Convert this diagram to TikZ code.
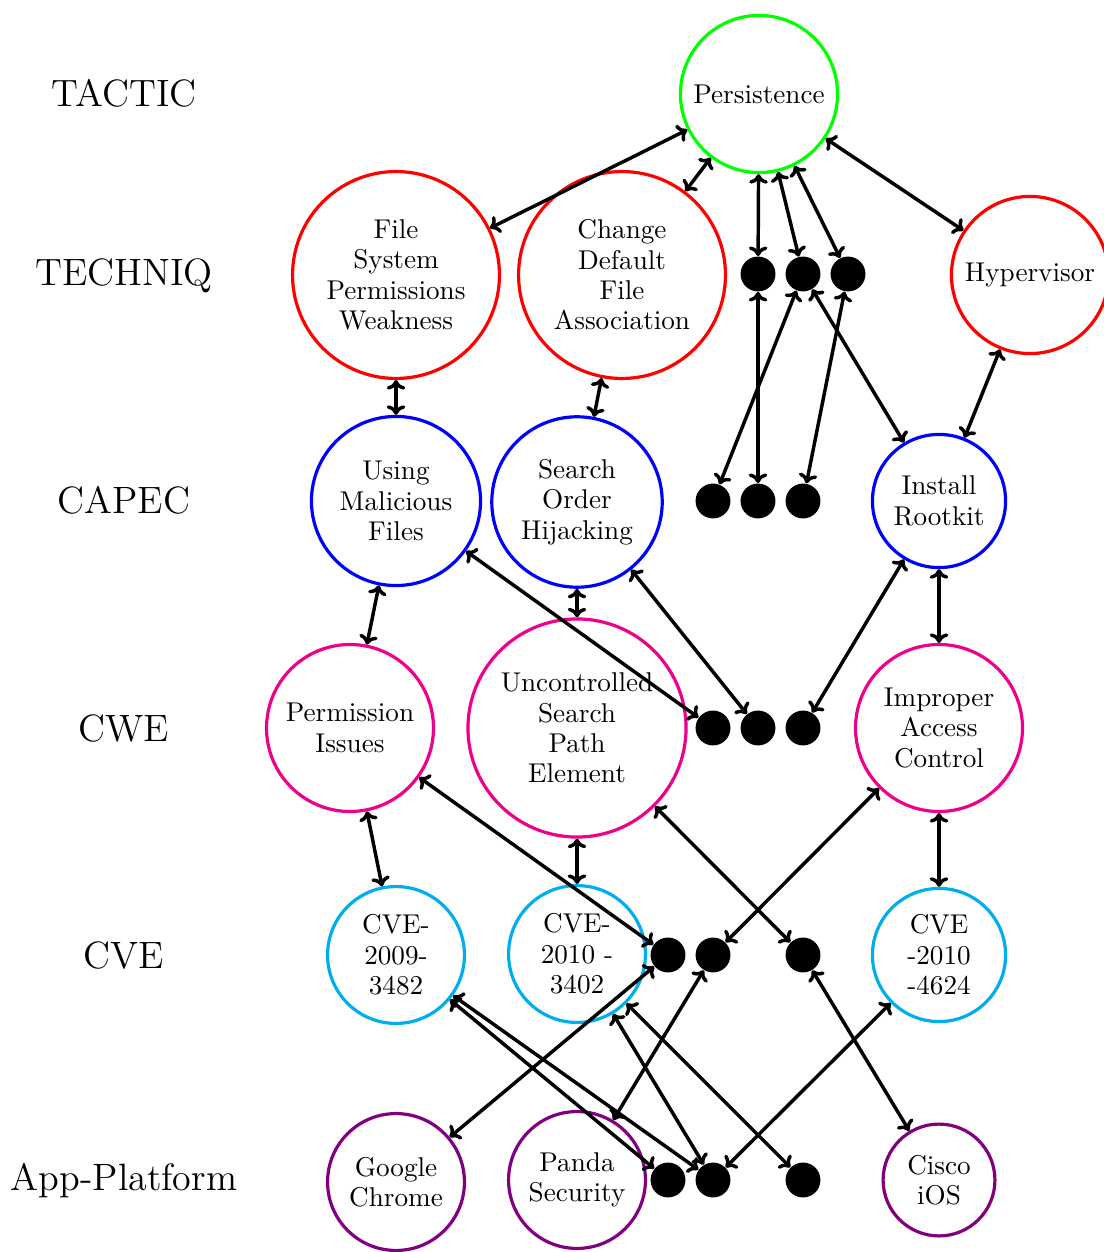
\documentclass[tikz,border=0pt]{standalone}
\usetikzlibrary{arrows.meta}
\definecolor{tacgreen}{RGB}{0,255,0}
\definecolor{techred}{RGB}{255,0,0}
\definecolor{capecblue}{RGB}{0,0,255}
\definecolor{cwepink}{RGB}{236,0,140}
\definecolor{cvecyan}{RGB}{0,174,239}
\definecolor{appviolet}{RGB}{128,0,128}
\begin{document}
\begin{tikzpicture}[x=0.37552pt,y=-0.37552pt,
  ent/.style={circle,draw,line width=1.2pt,align=center,inner sep=0pt,
    font=\fontsize{10.2}{11.4}\selectfont},
  tac/.style={ent,draw=tacgreen},
  tech/.style={ent,draw=techred},
  capec/.style={ent,draw=capecblue},
  cwe/.style={ent,draw=cwepink},
  cve/.style={ent,draw=cvecyan},
  app/.style={ent,draw=appviolet},
  blob/.style={circle,fill=black,minimum size=13.1pt,inner sep=0pt},
  lbl/.style={anchor=base,inner sep=0pt,font=\fontsize{14.3}{17}\selectfont},
  link/.style={{Computer Modern Rightarrow[length=3.6pt,width=7pt]}-{Computer Modern Rightarrow[length=3.6pt,width=7pt]},line width=1.3pt}]
\useasboundingbox (0,0) rectangle (1104,1252);

% level labels
\node[lbl] (lTac)   at (124,106.7) {TACTIC};
\node[lbl] (lTech)  at (124,285.3) {TECHNIQ};
\node[lbl] (lCapec) at (124,513.5) {CAPEC};
\node[lbl] (lCwe)   at (124,741) {CWE};
\node[lbl] (lCve)   at (124,968.3) {CVE};
\node[lbl] (lApp)   at (124,1190) {App-Platform};

% tactic
\node[tac, minimum size=59pt] (persist) at (759,94) {Persistence};

% techniques
\node[tech, minimum size=77.7pt] (fsp)  at (396,275) {File\\System\\Permissions\\Weakness};
\node[tech, minimum size=77.7pt] (cdfa) at (622,275) {Change\\Default\\File\\Association};
\node[blob] (t1) at (758,274) {};
\node[blob] (t2) at (803,274) {};
\node[blob] (t3) at (848,274) {};
\node[tech, minimum size=59pt] (hyper) at (1030,275) {Hypervisor};

% attack patterns
\node[capec, minimum size=63.5pt] (umf) at (396,501) {Using\\Malicious\\Files};
\node[capec, minimum size=64pt] (soh) at (577,502) {Search\\Order\\Hijacking};
\node[blob] (c1) at (713,501) {};
\node[blob] (c2) at (758,501) {};
\node[blob] (c3) at (803,501) {};
\node[capec, minimum size=50pt] (irk) at (939,501) {Install\\Rootkit};

% weaknesses
\node[cwe, minimum size=62.7pt] (pis) at (350,728) {Permission\\Issues};
\node[cwe, minimum size=81.9pt] (uspe) at (577,728) {Uncontrolled\\Search\\Path\\Element};
\node[blob] (w1) at (713,728) {};
\node[blob] (w2) at (758,728) {};
\node[blob] (w3) at (803,728) {};
\node[cwe, minimum size=62.7pt] (iac) at (939,728) {Improper\\Access\\Control};

% vulnerabilities
\node[cve, minimum size=51.4pt] (cveA) at (396,955) {CVE-\\2009-\\3482};
\node[cve, minimum size=51.4pt] (cveB) at (577,954) {CVE-\\2010 -\\3402};
\node[blob] (v1) at (668,955) {};
\node[blob] (v2) at (713,955) {};
\node[blob] (v3) at (803,955) {};
\node[cve, minimum size=50pt] (cveC) at (939,955) {CVE\\-2010\\-4624};

% platforms
\node[app, minimum size=51.4pt] (chrome) at (396,1182) {Google\\Chrome};
\node[app, minimum size=51.4pt] (panda) at (577,1180) {Panda\\Security};
\node[blob] (a1) at (668,1180) {};
\node[blob] (a2) at (713,1180) {};
\node[blob] (a3) at (803,1180) {};
\node[app, minimum size=42pt] (cisco) at (939,1180) {Cisco\\iOS};

% tactic -- technique
\draw[link] (persist) -- (fsp);
\draw[link] (persist) -- (cdfa);
\draw[link] (persist) -- (t1);
\draw[link] (persist) -- (t2);
\draw[link] (persist) -- (t3);
\draw[link] (persist) -- (hyper);

% technique -- attack pattern
\draw[link] (fsp) -- (umf);
\draw[link] (cdfa) -- (soh);
\draw[link] (t1) -- (c2);
\draw[link] (t2) -- (c1);
\draw[link] (t3) -- (c3);
\draw[link] (t2) -- (irk);
\draw[link] (hyper) -- (irk);

% attack pattern -- weakness
\draw[link] (umf) -- (pis);
\draw[link] (soh) -- (uspe);
\draw[link] (umf) -- (w1);
\draw[link] (soh) -- (w2);
\draw[link] (irk) -- (w3);
\draw[link] (irk) -- (iac);

% weakness -- vulnerability
\draw[link] (pis) -- (cveA);
\draw[link] (uspe) -- (cveB);
\draw[link] (pis) -- (v1);
\draw[link] (uspe) -- (v3);
\draw[link] (iac) -- (v2);
\draw[link] (iac) -- (cveC);

% vulnerability -- platform
\draw[link] (v1) -- (chrome);
\draw[link] (v2) -- (panda);
\draw[link] (cveA) -- (a1);
\draw[link] (cveA) -- (a2);
\draw[link] (cveB) -- (a2);
\draw[link] (cveB) -- (a3);
\draw[link] (v3) -- (cisco);
\draw[link] (cveC) -- (a2);
\end{tikzpicture}
\end{document}
